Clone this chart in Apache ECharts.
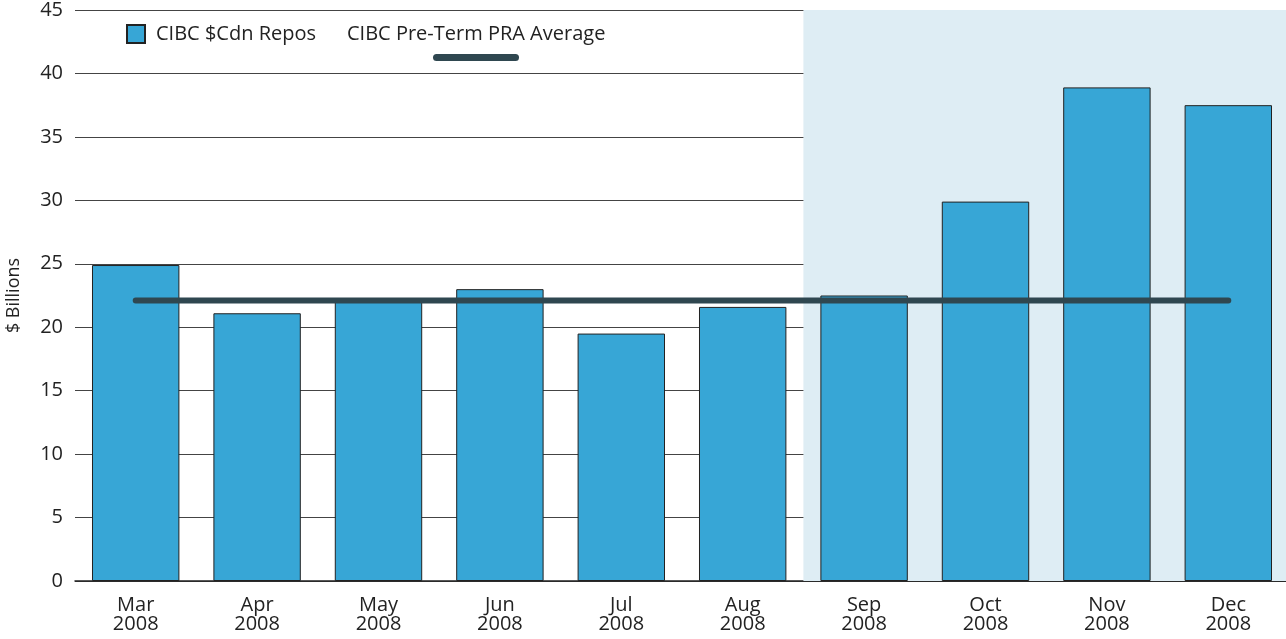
<!DOCTYPE html>
<html><head><meta charset="utf-8">
<script src="https://cdn.jsdelivr.net/npm/echarts@6/dist/echarts.min.js"></script>
<style>html,body{margin:0;padding:0;background:#fff}#c{width:1286px;height:639px}</style>
</head><body><div id="c"></div>
<script>
const categories = ['Mar\n2008','Apr\n2008','May\n2008','Jun\n2008','Jul\n2008','Aug\n2008','Sep\n2008','Oct\n2008','Nov\n2008','Dec\n2008'];
const repos = [24.9, 21.1, 22.3, 23.0, 19.5, 21.6, 22.5, 29.9, 38.9, 37.5];
const praAverage = [22.1, 22.1, 22.1, 22.1, 22.1, 22.1, 22.1, 22.1, 22.1, 22.1];
const shadeStart = 6, shadeEnd = 10; // category band index range (Sep..Dec)
const yTicks = {min: 0, max: 45, interval: 5};

const font = '"Open Sans", "Noto Sans", sans-serif';
const chart = echarts.init(document.getElementById('c'), null, {renderer: 'canvas'});
chart.setOption({
  animation: false,
  textStyle: {fontFamily: font, color: '#222'},
  grid: {left: 75, right: -3, top: 10, bottom: 58, containLabel: false, outerBoundsMode: 'none'},
  legend: [{
    data: [{name: 'CIBC $Cdn Repos', icon: 'rect'}],
    left: 126, top: 24, padding: 0, itemWidth: 18, itemHeight: 18,
    textStyle: {fontFamily: font, fontSize: 20, color: '#222', padding: [0, 0, 0, 6]}
  }, {
    data: [{name: 'CIBC Pre-Term PRA Average', icon: 'none'}],
    left: 342, top: 24, padding: 0, itemWidth: 0, itemHeight: 18,
    textStyle: {fontFamily: font, fontSize: 20, color: '#222'}
  }],
  graphic: [{
    type: 'rect', left: 433, top: 54, shape: {width: 86, height: 7, r: 3.5},
    style: {fill: '#2f4750'}
  }],
  xAxis: [{
    type: 'category', data: categories,
    axisLine: {lineStyle: {color: '#222', width: 1.5}},
    axisTick: {show: false},
    axisLabel: {fontFamily: font, fontSize: 20, color: '#222', lineHeight: 19, margin: 15}
  }, {
    type: 'value', min: 0, max: categories.length, show: false
  }],
  yAxis: {
    type: 'value', min: yTicks.min, max: yTicks.max, interval: yTicks.interval,
    name: '$ Billions', nameLocation: 'middle', nameGap: 52, nameRotate: 90,
    nameTextStyle: {fontFamily: font, fontSize: 18, color: '#222'},
    axisLine: {show: false}, axisTick: {show: false},
    axisLabel: {fontFamily: font, fontSize: 20, color: '#222', margin: 12},
    splitLine: {lineStyle: {color: '#444', width: 1}}
  },
  series: [{
    type: 'line', xAxisIndex: 1, data: [], silent: true,
    markArea: {silent: true, itemStyle: {color: '#deedf4'},
      data: [[{xAxis: shadeStart, yAxis: yTicks.min}, {xAxis: shadeEnd, yAxis: yTicks.max}]]},
    z: 0
  }, {
    name: 'CIBC $Cdn Repos', type: 'bar', data: repos, barWidth: '72%',
    itemStyle: {color: '#37a6d6', borderColor: '#222', borderWidth: 1}, z: 2
  }, {
    name: 'CIBC Pre-Term PRA Average', type: 'line', data: praAverage,
    symbol: 'none', lineStyle: {color: '#2f4750', width: 6, cap: 'round'},
    itemStyle: {color: '#2f4750'}, z: 3
  }]
});
</script></body></html>
